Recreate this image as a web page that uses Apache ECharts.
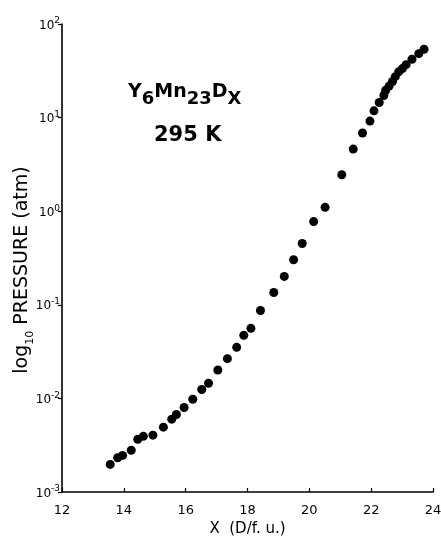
<!DOCTYPE html>
<html>
<head>
<meta charset="utf-8">
<script src="https://cdn.jsdelivr.net/npm/echarts@6/dist/echarts.min.js"></script>
<style>
  html,body{margin:0;padding:0;background:#fff;}
  #chart{width:441px;height:544px;}
</style>
</head>
<body>
<div id="chart"></div>
<script>
// 数据：X (D/f.u.) 与压力 (atm)，读自原图
const xVals=[13.56,13.80,13.96,14.24,14.45,14.63,14.94,15.28,15.55,15.70,15.95,16.23,16.52,16.74,
  17.04,17.35,17.65,17.88,18.11,18.42,18.85,19.19,19.49,19.77,20.14,20.51,21.05,21.42,21.72,
  21.96,22.09,22.26,22.41,22.47,22.58,22.69,22.78,22.89,23.01,23.13,23.32,23.54,23.71];
const pVals=[0.00197,0.00232,0.00246,0.00279,0.00365,0.00393,0.00405,0.00493,0.0060,0.00673,0.0080,0.0098,0.01244,0.01452,
  0.0201,0.0266,0.0351,0.0472,0.056,0.087,0.1355,0.201,0.303,0.452,0.775,1.10,2.45,4.61,6.84,
  9.18,11.8,14.5,17.2,19.6,21.7,24.3,27.4,30.8,33.4,36.8,42.0,48.2,53.7];
const xTicks=[12,14,16,18,20,22,24];
const yDecades=[-3,-2,-1,0,1,2];

const FONT='DejaVu Sans';
const chart=echarts.init(document.getElementById('chart'));

chart.setOption({
  animation:false,
  backgroundColor:'#fff',
  textStyle:{fontFamily:FONT,color:'#000'},
  grid:{left:62,right:8,top:24,bottom:52,outerBoundsMode:'none',containLabel:false},
  xAxis:{type:'value',min:xTicks[0],max:xTicks[xTicks.length-1],interval:2,
    name:'X  (D/f. u.)',nameLocation:'middle',nameGap:29,
    nameTextStyle:{fontFamily:FONT,fontSize:15,color:'#000'},
    axisLine:{lineStyle:{color:'#000',width:1.6}},
    axisTick:{inside:true,length:4,lineStyle:{color:'#000',width:1.2}},
    axisLabel:{margin:12,fontSize:13,color:'#000',fontFamily:FONT},
    splitLine:{show:false}},
  yAxis:{type:'log',logBase:10,min:Math.pow(10,yDecades[0]),max:Math.pow(10,yDecades[yDecades.length-1]),
    name:'{a|log}{s|10}{a| PRESSURE (atm)}',nameLocation:'middle',nameGap:26,nameRotate:90,
    nameMoveOverlap:false,
    nameTextStyle:{padding:[0,24,0,0],rich:{
      a:{fontFamily:FONT,fontSize:19,color:'#000',lineHeight:19,verticalAlign:'top'},
      s:{fontFamily:FONT,fontSize:11,color:'#000',lineHeight:23,verticalAlign:'bottom'}}},
    axisLine:{show:true,lineStyle:{color:'#000',width:1.6}},
    axisTick:{inside:false,length:4,lineStyle:{color:'#000',width:1.2}},
    minorTick:{show:false},
    axisLabel:{margin:2,
      formatter:v=>'{b|10}{s|'+Math.round(Math.log10(v))+'}',
      rich:{
        b:{fontFamily:FONT,fontSize:12,color:'#000',lineHeight:15,verticalAlign:'bottom'},
        s:{fontFamily:FONT,fontSize:9,color:'#000',verticalAlign:'top'}}},
    splitLine:{show:false}},
  graphic:[
    {type:'text',left:128,top:83,style:{
      text:'{b|Y}{s|6}{b|Mn}{s|23}{b|D}{s|X}',
      rich:{
        b:{fontFamily:FONT,fontSize:19,fontWeight:'bold',fill:'#000',verticalAlign:'top'},
        s:{fontFamily:FONT,fontSize:18,fontWeight:'bold',fill:'#000',lineHeight:25,verticalAlign:'bottom'}}}},
    {type:'text',left:154,top:125,style:{text:'295 K',fontFamily:FONT,fontSize:21,fontWeight:'bold',fill:'#000'}}
  ],
  series:[{type:'scatter',symbol:'circle',symbolSize:9,
    itemStyle:{color:'#000',opacity:1},
    data:xVals.map((x,i)=>[x,pVals[i]])}]
});
</script>
</body>
</html>
